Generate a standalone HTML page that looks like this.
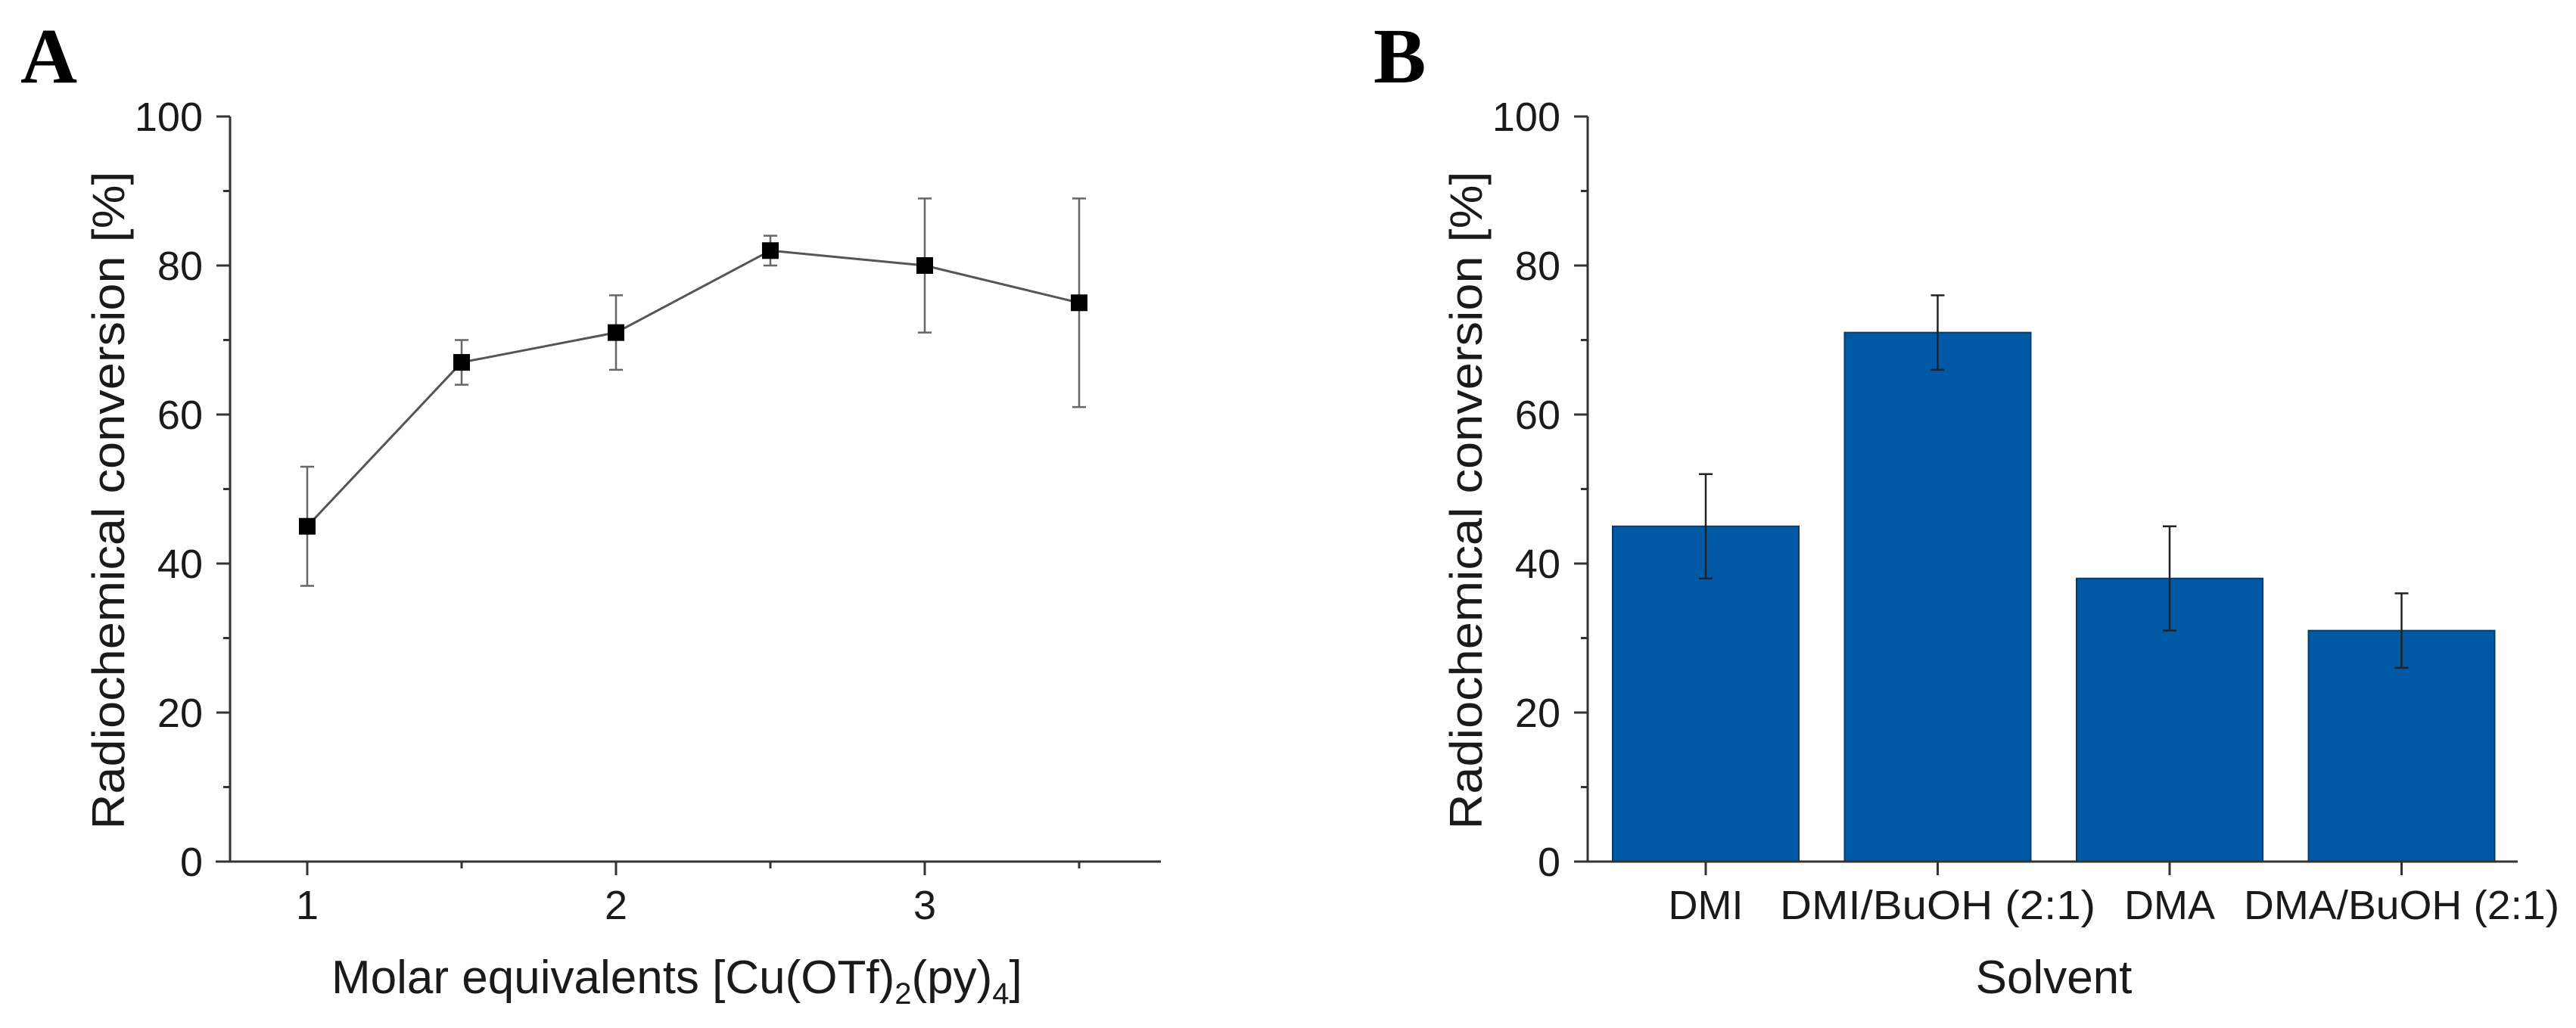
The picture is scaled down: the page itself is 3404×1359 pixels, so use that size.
<!DOCTYPE html>
<html><head><meta charset="utf-8"><style>
html,body{margin:0;padding:0;background:#fff;}
svg{display:block;}
text{font-family:"Liberation Sans",Arial,sans-serif;fill:#1a1a1a;}
</style></head>
<body>
<svg id="fig" width="3404" height="1359" viewBox="0 0 3404 1359" xmlns="http://www.w3.org/2000/svg">
<text x="27" y="109" style="font-family:'Liberation Serif',serif;font-weight:bold;font-size:104px;fill:#000">A</text>
<text x="1815" y="109" style="font-family:'Liberation Serif',serif;font-weight:bold;font-size:104px;fill:#000">B</text>
<g id="pa"></g>
<g id="pb"></g>
</svg>
<script>
const aX = [1, 1.5, 2, 2.5, 3, 3.5];
const aY = [45, 67, 71, 82, 80, 75];
const aLo = [37, 64, 66, 80, 71, 61];
const aHi = [53, 70, 76, 84, 89, 89];
const aXTicks = [1, 2, 3];
const yTicks = [0, 20, 40, 60, 80, 100];
const bCats = ["DMI", "DMI/BuOH (2:1)", "DMA", "DMA/BuOH (2:1)"];
const bY = [45, 71, 38, 31];
const bLo = [38, 66, 31, 26];
const bHi = [52, 76, 45, 36];

const NS = "http://www.w3.org/2000/svg";
function mk(parent, tag, attrs, txt) {
  const e = document.createElementNS(NS, tag);
  for (const k in attrs) e.setAttribute(k, attrs[k]);
  if (txt !== undefined) e.textContent = txt;
  parent.appendChild(e);
  return e;
}
const Y0 = 1139, Y100 = 154;
function yS(v) { return Y0 + (Y100 - Y0) * v / 100; }

function yAxis(g, ax, name) {
  let e = mk(g, "line", {x1: ax, y1: Y100, x2: ax, y2: Y0 + 1.5, stroke: "#333", "stroke-width": 3});
  
  
  for (let v = 10; v < 100; v += 20) {
    e = mk(g, "line", {x1: ax - 9, y1: yS(v), x2: ax, y2: yS(v), stroke: "#333", "stroke-width": 3});
    
    
  }
  yTicks.forEach(v => {
    let t = mk(g, "line", {x1: ax - 18, y1: yS(v), x2: ax, y2: yS(v), stroke: "#333", "stroke-width": 3});
    
    
    let l = mk(g, "text", {x: ax - 36, y: yS(v) + 19, "text-anchor": "end", "font-size": 54}, String(v));
    
    
  });
  const cy = (Y0 + Y100) / 2 + 15;
  const tx = ax - 140;
  let t = mk(g, "text", {x: 0, y: 0, transform: `translate(${tx},${cy}) rotate(-90)`, "text-anchor": "middle", "font-size": 60, textLength: 870, lengthAdjust: "spacingAndGlyphs"}, "Radiochemical conversion [%]");
  
  
}

// Panel A
(function () {
  const g = document.getElementById("pa");
  const ax = 304, xEnd = 1534;
  const xS = v => 406 + (v - 1) * 408;
  yAxis(g, ax, "panel-a");
  let e = mk(g, "line", {x1: 285, y1: Y0, x2: xEnd, y2: Y0, stroke: "#333", "stroke-width": 3});
  
  
  aXTicks.forEach(v => {
    let t = mk(g, "line", {x1: xS(v), y1: Y0, x2: xS(v), y2: Y0 + 18, stroke: "#333", "stroke-width": 3});
    
    
    let m = mk(g, "line", {x1: xS(v + 0.5), y1: Y0, x2: xS(v + 0.5), y2: Y0 + 9, stroke: "#333", "stroke-width": 3});
    
    
    let l = mk(g, "text", {x: xS(v), y: 1215, "text-anchor": "middle", "font-size": 54}, String(v));
    
    
  });
  let t = mk(g, "text", {x: 438, y: 1313, "font-size": 62});
  
  
  t.innerHTML = 'Molar equivalents [Cu(OTf)<tspan font-size="40" dy="14">2</tspan><tspan dy="-14">(py)</tspan><tspan font-size="40" dy="14">4</tspan><tspan dy="-14">]</tspan>';
  let pts = aX.map((x, i) => xS(x) + "," + yS(aY[i])).join(" ");
  let pl = mk(g, "polyline", {points: pts, fill: "none", stroke: "#555", "stroke-width": 3});
  
  
  aX.forEach((x, i) => {
    const cx = xS(x);
    let eb = mk(g, "path", {d: `M${cx},${yS(aLo[i])}V${yS(aHi[i])}M${cx - 9},${yS(aLo[i])}H${cx + 9}M${cx - 9},${yS(aHi[i])}H${cx + 9}`, stroke: "#666", "stroke-width": 2.5, fill: "none"});
    
    
    let p = mk(g, "rect", {x: cx - 11, y: yS(aY[i]) - 11, width: 22, height: 22, fill: "#000"});
    
    
  });
})();

// Panel B
(function () {
  const g = document.getElementById("pb");
  const ax = 2098, xEnd = 3327;
  const step = 306.5, first = 2254, bw = 246;
  const xS = i => first + i * step;
  bCats.forEach((c, i) => {
    const cx = xS(i);
    let r = mk(g, "rect", {x: cx - bw / 2, y: yS(bY[i]), width: bw, height: Y0 - yS(bY[i]), fill: "#0059a4", stroke: "#0a3a6a", "stroke-width": 2});
    
    
    let eb = mk(g, "path", {d: `M${cx},${yS(bLo[i])}V${yS(bHi[i])}M${cx - 9},${yS(bLo[i])}H${cx + 9}M${cx - 9},${yS(bHi[i])}H${cx + 9}`, stroke: "#222", "stroke-width": 2.5, fill: "none"});
    
    
    let t = mk(g, "line", {x1: cx, y1: Y0, x2: cx, y2: Y0 + 18, stroke: "#333", "stroke-width": 3});
    
    
    let l = mk(g, "text", {x: cx, y: 1215, "text-anchor": "middle", "font-size": 54}, c);
    
    
    if (c.length > 5) { l.setAttribute("textLength", 417); l.setAttribute("lengthAdjust", "spacingAndGlyphs"); }
  });
  yAxis(g, ax, "panel-b");
  let e = mk(g, "line", {x1: 2080, y1: Y0, x2: xEnd, y2: Y0, stroke: "#333", "stroke-width": 3});
  
  
  let t = mk(g, "text", {x: 2714, y: 1313, "text-anchor": "middle", "font-size": 62}, "Solvent");
  
  
})();
</script>
</body></html>
